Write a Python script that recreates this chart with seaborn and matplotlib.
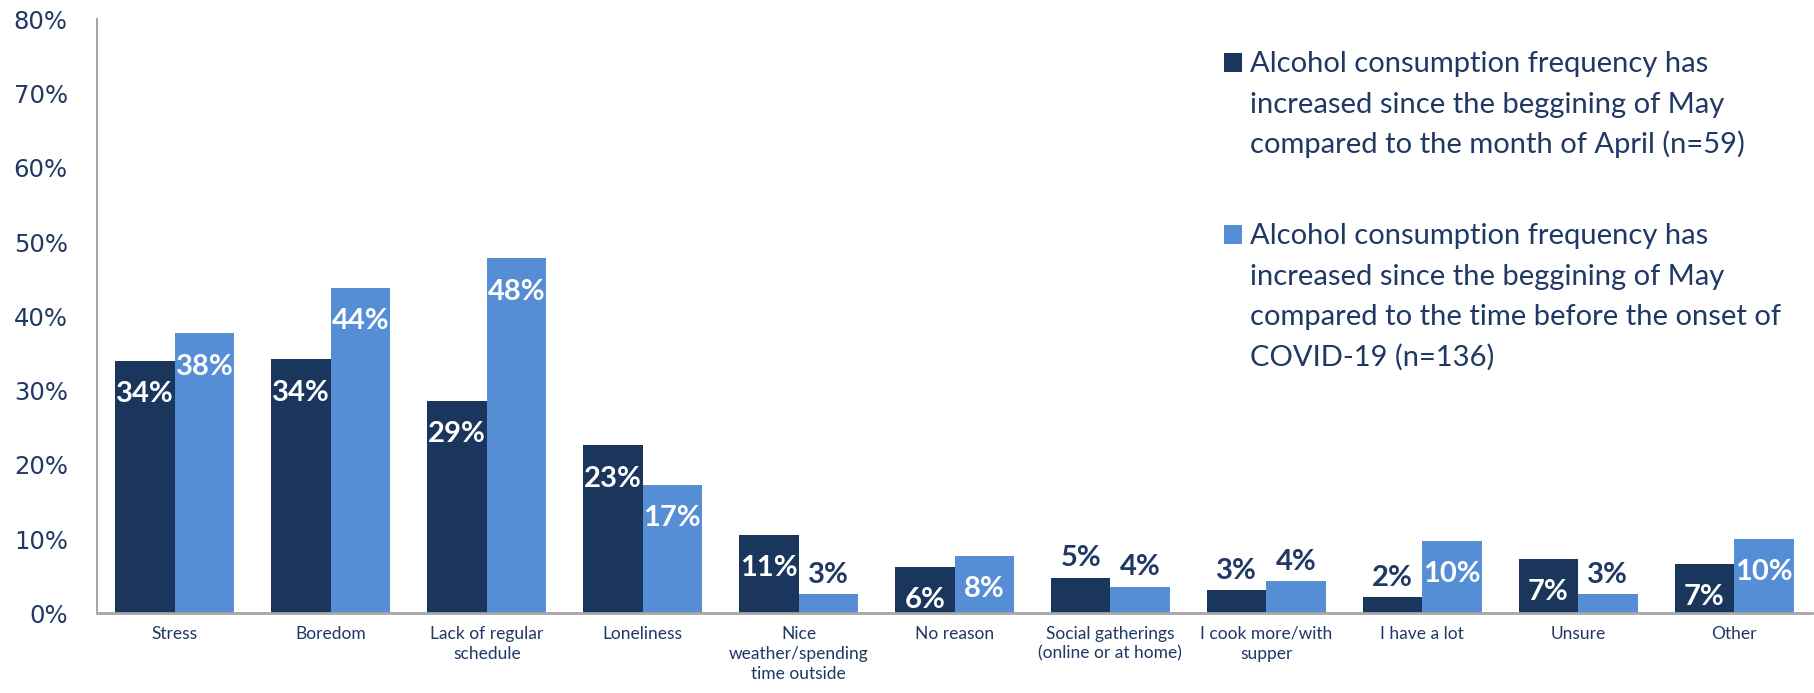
import matplotlib
matplotlib.use("Agg")
import matplotlib.pyplot as plt
from matplotlib.patches import Rectangle
import pandas as pd
import seaborn as sns

# Reasons given for drinking more often, in percent of respondents
categories = [
    "Stress",
    "Boredom",
    "Lack of regular\nschedule",
    "Loneliness",
    "Nice\nweather/spending\ntime outside",
    "No reason",
    "Social gatherings\n(online or at home)",
    "I cook more/with\nsupper",
    "I have a lot",
    "Unsure",
    "Other",
]
since_april = [34.0, 34.2, 28.6, 22.6, 10.6, 6.3, 4.8, 3.1, 2.2, 7.3, 6.7]
since_pre_covid = [37.7, 43.8, 47.8, 17.3, 2.6, 7.7, 3.6, 4.3, 9.8, 2.6, 10.0]
series_names = [
    "Alcohol consumption frequency has\nincreased since the beggining of May\n"
    "compared to the month of April (n=59)",
    "Alcohol consumption frequency has\nincreased since the beggining of May\n"
    "compared to the time before the onset of\nCOVID-19 (n=136)",
]
y_ticks = [0, 10, 20, 30, 40, 50, 60, 70, 80]

DARK = "#1A365D"
LIGHT = "#558ED5"
NAVY = "#1F3864"
GREY = "#A6A6A6"

sns.set_theme(style="white")
plt.rcParams["font.family"] = ["Lato", "DejaVu Sans"]

df = pd.DataFrame({
    "reason": categories * 2,
    "series": [series_names[0]] * len(categories) + [series_names[1]] * len(categories),
    "value": since_april + since_pre_covid,
})

W, H = 1814, 693
fig = plt.figure(figsize=(W / 100, H / 100), dpi=100)
ax = fig.add_axes([97 / W, 1 - 613.3 / H, (1812 - 97) / W, (613.3 - 19.3) / H])

sns.barplot(
    data=df, x="reason", y="value", hue="series",
    order=categories, hue_order=series_names,
    palette=[DARK, LIGHT], saturation=1, width=0.763,
    errorbar=None, legend=False, linewidth=0, ax=ax,
)

ax.set_xlim(-0.5, len(categories) - 0.5)
ax.set_ylim(0, 80)
ax.set_xlabel("")
ax.set_ylabel("")

ax.set_yticks(y_ticks)
ax.set_yticklabels([f"{t}%" for t in y_ticks])
for lbl in ax.get_yticklabels():
    lbl.set_fontfamily("DejaVu Sans")
ax.tick_params(axis="y", length=0, pad=21, labelsize=17.5, labelcolor=NAVY)

ax.set_xticks(range(len(categories)))
ax.set_xticklabels(categories, linespacing=1.3)
ax.tick_params(axis="x", length=0, pad=9, labelsize=12.5, labelcolor=NAVY)

for side in ("top", "right"):
    ax.spines[side].set_visible(False)
ax.spines["left"].set_color(GREY)
ax.spines["left"].set_linewidth(1.5)
ax.spines["bottom"].set_color(GREY)
ax.spines["bottom"].set_linewidth(2)

# Value labels: inside the bar top when there is room, above it otherwise
for container, values in zip(ax.containers, [since_april, since_pre_covid]):
    for bar, v in zip(container, values):
        x = bar.get_x() + bar.get_width() / 2
        h = bar.get_height()
        inside = v >= 5.5
        ax.annotate(
            f"{v:.0f}%", (x, h),
            xytext=(0, -24 if inside else 14), textcoords="offset points",
            ha="center", va="center", fontsize=21, fontweight="bold",
            color="white" if inside else NAVY,
        )

# Legend drawn as text block on the right
line_px = 40.5
baseline = 72.0
for name, color in zip(series_names, [DARK, LIGHT]):
    lines = name.split("\n")
    fig.add_artist(Rectangle((1224 / W, 1 - baseline / H), 18 / W, 19 / H,
                             transform=fig.transFigure, color=color, lw=0))
    for j, line in enumerate(lines):
        fig.text(1250 / W, 1 - (baseline + j * line_px) / H, line,
                 fontsize=21, color=NAVY, va="baseline", ha="left")
    baseline += (len(lines) + 1.25) * line_px

fig.savefig("out.png", dpi=100)
